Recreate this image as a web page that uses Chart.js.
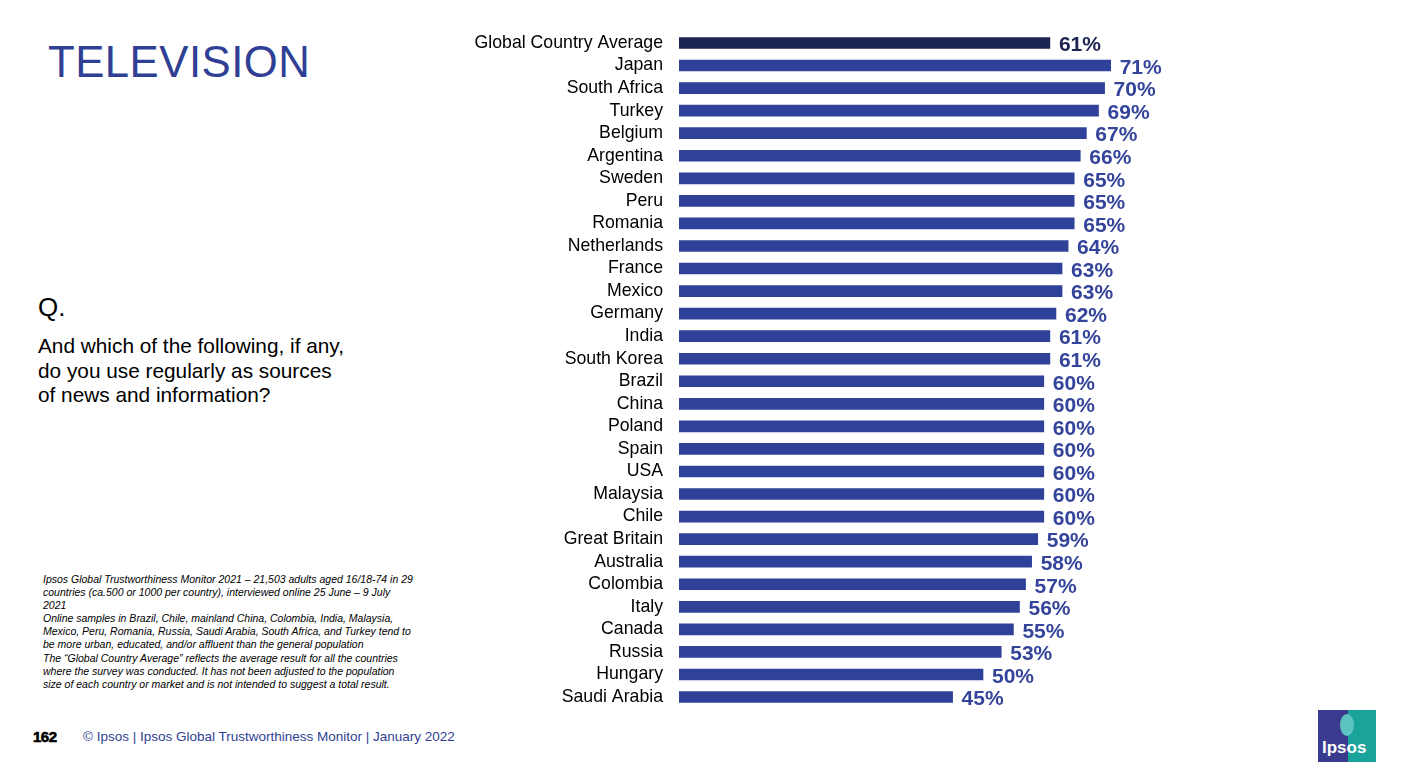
<!DOCTYPE html>
<html><head><meta charset="utf-8">
<script src="https://cdn.jsdelivr.net/npm/chart.js@4.4.0/dist/chart.umd.min.js"></script>
<style>
html,body{margin:0;padding:0;background:#fff;}
body{width:1410px;height:772px;position:relative;overflow:hidden;font-family:"Liberation Sans",Arial,sans-serif;}
#wrap{position:absolute;left:440px;top:0;width:847px;height:772px;}
.t{position:absolute;white-space:nowrap;}
</style></head><body>
<div class="t" style="left:48px;top:37px;font-size:43.7px;color:#2f3f94;letter-spacing:0.5px;">TELEVISION</div>
<div class="t" style="left:38px;top:292px;font-size:26px;color:#000;">Q.</div>
<div class="t" style="left:38px;top:334px;font-size:20.8px;line-height:24.5px;color:#000;">And which of the following, if any,<br>do you use regularly as sources<br>of news and information?</div>
<div class="t" style="left:43px;top:573px;font-size:10.5px;line-height:13.1px;color:#000;font-style:italic;">Ipsos Global Trustworthiness Monitor 2021 – 21,503 adults aged 16/18-74 in 29<br>countries (ca.500 or 1000 per country), interviewed online 25 June – 9 July<br>2021<br>Online samples in Brazil, Chile, mainland China, Colombia, India, Malaysia,<br>Mexico, Peru, Romania, Russia, Saudi Arabia, South Africa, and Turkey tend to<br>be more urban, educated, and/or affluent than the general population<br>The “Global Country Average” reflects the average result for all the countries<br>where the survey was conducted. It has not been adjusted to the population<br>size of each country or market and is not intended to suggest a total result.</div>
<div class="t" style="left:33px;top:728px;font-size:15px;font-weight:900;color:#000;letter-spacing:-0.5px;-webkit-text-stroke:0.6px #000;">162</div>
<div class="t" style="left:83px;top:729px;font-size:13.5px;color:#2f3f94;">© Ipsos | Ipsos Global Trustworthiness Monitor | January 2022</div>
<div style="position:absolute;left:1318px;top:710px;width:58px;height:52px;overflow:hidden;">
  <div style="position:absolute;left:0;top:0;width:30px;height:52px;background:#3a3b8f;"></div>
  <div style="position:absolute;left:30px;top:0;width:28px;height:52px;background:#1aa39a;"></div>
  <div style="position:absolute;left:22px;top:4px;width:14px;height:22px;border-radius:50%;background:#5cc3c0;"></div>
  <div style="position:absolute;left:4px;top:28px;font-size:17px;font-weight:bold;color:#fff;">Ipsos</div>
</div>
<div id="wrap"><canvas id="c"></canvas></div>
<script>
const categories = ["Global Country Average","Japan","South Africa","Turkey","Belgium","Argentina","Sweden","Peru","Romania","Netherlands","France","Mexico","Germany","India","South Korea","Brazil","China","Poland","Spain","USA","Malaysia","Chile","Great Britain","Australia","Colombia","Italy","Canada","Russia","Hungary","Saudi Arabia"];
const values = [61,71,70,69,67,66,65,65,65,64,63,63,62,61,61,60,60,60,60,60,60,60,59,58,57,56,55,53,50,45];
const barColors = categories.map((c,i)=> i===0 ? "#1c2452" : "#2f4199");
const labelColors = categories.map((c,i)=> i===0 ? "#1c2452" : "#34449a");

const valueLabels = {
  id:'valueLabels',
  afterDatasetsDraw(chart){
    const ctx = chart.ctx;
    const meta = chart.getDatasetMeta(0);
    ctx.save();
    ctx.font = "bold 21px 'Liberation Sans', Arial, sans-serif";
    ctx.textBaseline = "middle";
    ctx.textAlign = "left";
    meta.data.forEach((bar,i)=>{
      ctx.fillStyle = labelColors[i];
      ctx.fillText(values[i]+"%", bar.x+9, bar.y+2.5);
    });
    ctx.restore();
  }
};

new Chart(document.getElementById('c'),{
  type:'bar',
  data:{labels:categories,datasets:[{data:values,backgroundColor:barColors,barThickness:11,borderWidth:0}]},
  options:{
    indexAxis:'y',
    responsive:true,maintainAspectRatio:false,animation:false,
    layout:{padding:{top:31.7,bottom:63.7,left:0,right:0}},
    plugins:{legend:{display:false},tooltip:{enabled:false}},
    scales:{
      x:{display:false,min:0,max:100},
      y:{
        grid:{display:false,drawTicks:false},border:{display:false},
        ticks:{color:"#000",padding:16,autoSkip:false,font:{size:17.7,family:"'Liberation Sans', Arial, sans-serif"}},
        afterFit(s){s.width=239;}
      }
    }
  },
  plugins:[valueLabels]
});
</script>
</body></html>
